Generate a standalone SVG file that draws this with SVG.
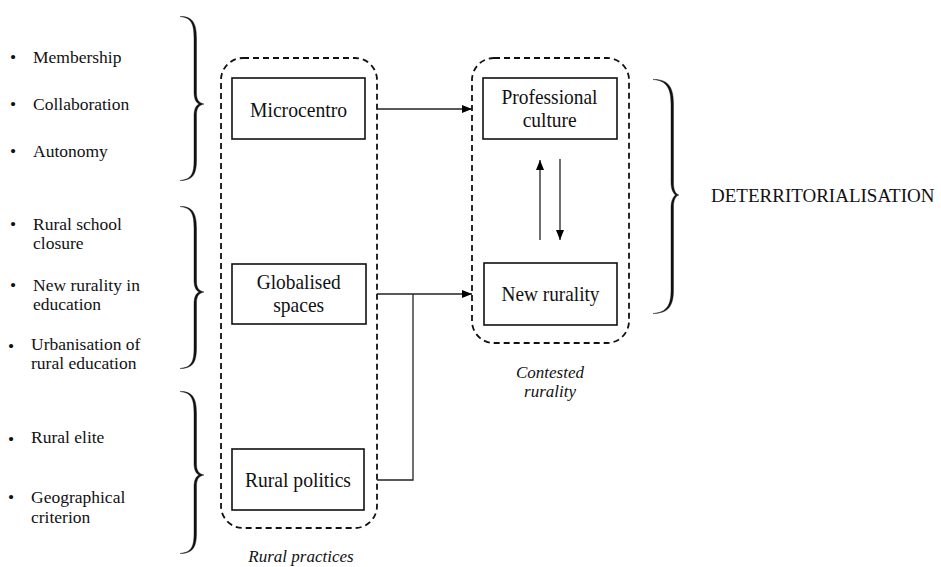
<svg xmlns="http://www.w3.org/2000/svg" width="941" height="567" viewBox="0 0 941 567">
  <defs>
    <marker id="arrow" markerWidth="10" markerHeight="8" refX="10" refY="4" orient="auto" markerUnits="userSpaceOnUse">
      <path d="M0,0 L10,4 L0,8 Z" fill="#000"/>
    </marker>
    <style>
      text { font-family: 'Liberation Serif', 'Times New Roman', serif; fill: #111; }
      .item { font-size: 17.5px; }
      .label { font-size: 21px; text-anchor: middle; }
      .caption { font-size: 17px; font-style: italic; text-anchor: middle; }
      .node { fill: #fff; stroke: #111; stroke-width: 1.6; }
      .group { fill: none; stroke: #111; stroke-width: 1.8; stroke-dasharray: 6 4; }
      .brace { fill: #111; stroke: #111; stroke-width: 0.4; }
      .link { fill: none; stroke: #222; stroke-width: 1.3; }
    </style>
  </defs>
  <rect width="941" height="567" fill="#fff"/>

  <!-- bullet lists -->
  <g id="list-microcentro" class="item">
    <text x="10" y="63">•</text><text x="33" y="63">Membership</text>
    <text x="10" y="110">•</text><text x="33" y="110">Collaboration</text>
    <text x="10" y="157">•</text><text x="33" y="157">Autonomy</text>
  </g>
  <g id="list-globalised" class="item">
    <text x="10" y="230">•</text><text x="33" y="230">Rural school</text>
    <text x="33" y="249">closure</text>
    <text x="10" y="291">•</text><text x="33" y="291">New rurality in</text>
    <text x="33" y="310">education</text>
    <text x="8" y="352">•</text><text x="31" y="350">Urbanisation of</text>
    <text x="31" y="369">rural education</text>
  </g>
  <g id="list-politics" class="item">
    <text x="8" y="445">•</text><text x="31" y="443">Rural elite</text>
    <text x="8" y="503">•</text><text x="31" y="503">Geographical</text>
    <text x="31" y="523">criterion</text>
  </g>

  <!-- curly braces, drawn as tapered filled outlines -->
  <g id="braces">
    <path class="brace" d="M180,16.5 C193,16 196.5,24 196.5,38 L196.5,93 C196.5,100 199,103 204,104 C199,105 196.5,108 196.5,115 L196.5,160 C196.5,174 193,180.5 180,180.5 C192,179.5 194,173 194,160 L194,116 C194,109 196,105.5 199,104 C196,102.5 194,99 194,92 L194,38 C194,25 192,17.5 180,16.5 Z"/>
    <path class="brace" d="M180,206.5 C193,206 196.5,214 196.5,228 L196.5,281 C196.5,288 199,291 204,292 C199,293 196.5,296 196.5,303 L196.5,348 C196.5,362 193,368.5 180,368.5 C192,367.5 194,361 194,348 L194,304 C194,297 196,293.5 199,292 C196,290.5 194,287 194,280 L194,228 C194,215 192,207.5 180,206.5 Z"/>
    <path class="brace" d="M180,391.5 C193,391 196.5,399 196.5,413 L196.5,464 C196.5,471 199,474 204,475 C199,476 196.5,479 196.5,486 L196.5,533 C196.5,547 193,553.5 180,553.5 C192,552.5 194,546 194,533 L194,487 C194,480 196,476.5 199,475 C196,473.5 194,470 194,463 L194,413 C194,400 192,392.5 180,391.5 Z"/>
    <path class="brace" d="M653,79.5 C669,79 673.5,88 673.5,104 L673.5,183 C673.5,190 675.5,194 679,195 C675.5,196 673.5,200 673.5,207 L673.5,290 C673.5,305 669,313.5 653,313.5 C667,312.5 671,305 671,290 L671,208 C671,201 673,197 675.5,195 C673,193 671,189 671,182 L671,104 C671,89 667,80.5 653,79.5 Z"/>
  </g>

  <!-- dashed groupings -->
  <g id="rural-practices">
    <rect class="group" x="221" y="58" width="156" height="470" rx="22"/>
    <text class="caption" x="301" y="562">Rural practices</text>
  </g>
  <g id="contested-rurality">
    <rect class="group" x="472" y="58" width="157" height="285" rx="22"/>
    <text class="caption" x="550" y="378">Contested</text>
    <text class="caption" x="550" y="397">rurality</text>
  </g>

  <!-- nodes -->
  <g id="microcentro">
    <rect class="node" x="232" y="78" width="133" height="61"/>
    <text class="label" x="298.5" y="117" textLength="97" lengthAdjust="spacingAndGlyphs">Microcentro</text>
  </g>
  <g id="globalised-spaces">
    <rect class="node" x="232" y="264" width="134" height="60"/>
    <text class="label" x="298.7" y="289" textLength="84" lengthAdjust="spacingAndGlyphs">Globalised</text>
    <text class="label" x="298.7" y="312" textLength="51" lengthAdjust="spacingAndGlyphs">spaces</text>
  </g>
  <g id="rural-politics">
    <rect class="node" x="232" y="449" width="132" height="61"/>
    <text class="label" x="298" y="487" textLength="106" lengthAdjust="spacingAndGlyphs">Rural politics</text>
  </g>
  <g id="professional-culture">
    <rect class="node" x="483" y="78" width="134" height="61"/>
    <text class="label" x="549.5" y="104" textLength="96" lengthAdjust="spacingAndGlyphs">Professional</text>
    <text class="label" x="549.7" y="127" textLength="54" lengthAdjust="spacingAndGlyphs">culture</text>
  </g>
  <g id="new-rurality">
    <rect class="node" x="484" y="263" width="133" height="62"/>
    <text class="label" x="550.5" y="301" textLength="98" lengthAdjust="spacingAndGlyphs">New rurality</text>
  </g>
  <g id="deterritorialisation">
    <text x="711" y="202" font-size="19">DETERRITORIALISATION</text>
  </g>

  <!-- connectors -->
  <g id="connectors">
    <line class="link" x1="377" y1="109" x2="472" y2="109" marker-end="url(#arrow)"/>
    <line class="link" x1="377" y1="294" x2="472" y2="294" marker-end="url(#arrow)"/>
    <polyline class="link" points="377,480 413,480 413,294"/>
    <line class="link" x1="540" y1="240" x2="540" y2="160" marker-end="url(#arrow)"/>
    <line class="link" x1="560" y1="159" x2="560" y2="240" marker-end="url(#arrow)"/>
  </g>
</svg>
